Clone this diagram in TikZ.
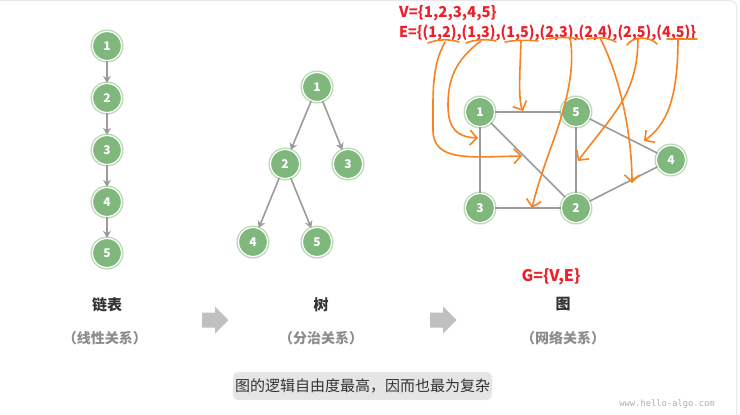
\documentclass[tikz,border=0pt]{standalone}
\usepackage{fontspec}
\setmainfont{Noto Sans}
\newfontfamily\cjk{Noto Sans CJK SC}
\newfontfamily\monof{DejaVu Sans Mono}
\usetikzlibrary{arrows.meta}
\definecolor{gfill}{RGB}{127,183,124}
\definecolor{gring}{RGB}{183,218,180}
\definecolor{edgec}{RGB}{155,155,155}
\definecolor{redc}{RGB}{236,32,42}
\definecolor{orangec}{RGB}{247,130,32}
\definecolor{blockc}{RGB}{192,192,192}
\definecolor{capc}{RGB}{229,229,229}
\definecolor{framec}{RGB}{232,232,232}
\definecolor{titc}{RGB}{51,51,51}
\definecolor{subc}{RGB}{140,140,140}
\tikzset{
  gnode/.style={circle, minimum size=29pt, inner sep=0pt, fill=gfill, draw=white, line width=1.2pt,
    preaction={draw=gring, line width=4pt}, text=white, font=\cjk\bfseries\fontsize{12}{12}\selectfont},
  gedge/.style={draw=edgec, line width=1.6pt},
  garrow/.style={draw=edgec, line width=1.6pt, -{Stealth[length=7pt,width=8pt]}},
  lab/.style={font=\cjk\bfseries\fontsize{15}{15}\selectfont, text=titc},
  sublab/.style={font=\cjk\bfseries\fontsize{14}{14}\selectfont, text=subc},
  redt/.style={font=\cjk\bfseries\fontsize{15}{15}\selectfont, text=redc, inner sep=0pt},
  ora/.style={draw=orangec, line width=1.6pt, line cap=round},
  oarr/.style={draw=orangec, line width=1.6pt, line cap=round, -{Straight Barb[length=7pt,width=15pt]}},
}
\begin{document}
\begin{tikzpicture}[x=1pt,y=-1pt]
\useasboundingbox (0,0) rectangle (740,415);
\draw[framec, line width=1pt, rounded corners=7pt] (-10,0.6) rectangle (736.6,430);

% linked list
\node[gnode] (L1) at (107,46) {1};
\node[gnode] (L2) at (107,98) {2};
\node[gnode] (L3) at (107,150) {3};
\node[gnode] (L4) at (107,202) {4};
\node[gnode] (L5) at (107,253) {5};
\draw[garrow] (L1) -- (L2);
\draw[garrow] (L2) -- (L3);
\draw[garrow] (L3) -- (L4);
\draw[garrow] (L4) -- (L5);

% tree
\node[gnode] (T1) at (317,87) {1};
\node[gnode] (T2) at (285,164) {2};
\node[gnode] (T3) at (348,164) {3};
\node[gnode] (T4) at (253,242) {4};
\node[gnode] (T5) at (317,242) {5};
\draw[garrow] (T1) -- (T2);
\draw[garrow] (T1) -- (T3);
\draw[garrow] (T2) -- (T4);
\draw[garrow] (T2) -- (T5);

% graph
\node[gnode] (G1) at (480,112) {1};
\node[gnode] (G5) at (576,112) {5};
\node[gnode] (G4) at (671,160) {4};
\node[gnode] (G3) at (480,208) {3};
\node[gnode] (G2) at (576,208) {2};
\draw[gedge] (G1) -- (G5);
\draw[gedge] (G1) -- (G3);
\draw[gedge] (G1) -- (G2);
\draw[gedge] (G5) -- (G2);
\draw[gedge] (G3) -- (G2);
\draw[gedge] (G5) -- (G4);
\draw[gedge] (G2) -- (G4);

% red texts
\node[redt, anchor=west] (V) at (399,13) {V=\{1,2,3,4,5\}};
\node[redt, anchor=west] (E) at (399,33) {\scalebox{0.955}[1]{E=\{(1,2),(1,3),(1,5),(2,3),(2,4),(2,5),(4,5)\}}};
\node[redt, font=\cjk\bfseries\fontsize{16}{16}\selectfont] (G) at (551,277) {G=\{V,E\}};

% orange underlines
\draw[ora] (428,43) .. controls (438,39) and (450,39) .. (459,42);
\draw[ora] (466,43) .. controls (476,39) and (487,39) .. (496,41);
\draw[ora] (505,42) .. controls (515,40) and (528,40) .. (538,41);
\draw[ora] (546,39) .. controls (556,37) and (570,37) .. (580,39);
\draw[ora] (587,39) .. controls (597,37) and (607,37) .. (616,42);
\draw[ora] (627,45) .. controls (633,36) and (650,36) .. (657,44);
\draw[ora] (667,39) -- (697,39);

% orange pointers
\coordinate (a1) at (522,156);
\coordinate (a2) at (478,138);
\coordinate (a3) at (523,111);
\coordinate (a4) at (532,208);
\coordinate (a5) at (632,183);
\coordinate (a6) at (578,161);
\coordinate (a7) at (644,141);
\draw[oarr] (445,42) .. controls (435,60) and (433,80) .. (433,105) -- (433,130) .. controls (433,162) and (470,157) .. (a1);
\draw[oarr] (481,41) .. controls (455,60) and (448,80) .. (448,105) .. controls (448,130) and (458,137) .. (a2);
\draw[oarr] (521,41) .. controls (520,70) and (518,100) .. (a3);
\draw[oarr] (570,38) .. controls (576,70) and (565,110) .. (550,150) .. controls (541,175) and (535,195) .. (a4);
\draw[oarr] (600,38) .. controls (622,80) and (632,140) .. (a5);
\draw[oarr] (638,38) .. controls (638,95) and (612,115) .. (a6);
\draw[oarr] (678,39) .. controls (678,100) and (666,125) .. (a7);

% titles
\node[lab] (t1) at (107,305) {链表};
\node[sublab] (s1) at (105,338) {（线性关系）};
\node[lab] (t2) at (321,305) {树};
\node[sublab] (s2) at (321,338) {（分治关系）};
\node[lab] (t3) at (563,304) {图};
\node[sublab] (s3) at (563,338) {（网络关系）};

% block arrows
\fill[blockc] (202,312.5) -- (215,312.5) -- (215,306.5) -- (228.5,320) -- (215,333.5) -- (215,327.5) -- (202,327.5) -- cycle;
\fill[blockc] (430,312.5) -- (443,312.5) -- (443,306.5) -- (456.5,320) -- (443,333.5) -- (443,327.5) -- (430,327.5) -- cycle;

% caption
\node[fill=capc, rounded corners=5pt, minimum width=259pt, minimum height=28pt, inner sep=0pt,
  font=\cjk\fontsize{15}{15}\selectfont, text=titc] (cap) at (362.5,386) {图的逻辑自由度最高，因而也最为复杂};

\node[font=\monof\fontsize{8.8}{9}\selectfont, text=subc!70] (wm) at (667,404) {www.hello-algo.com};
\end{tikzpicture}
\end{document}
